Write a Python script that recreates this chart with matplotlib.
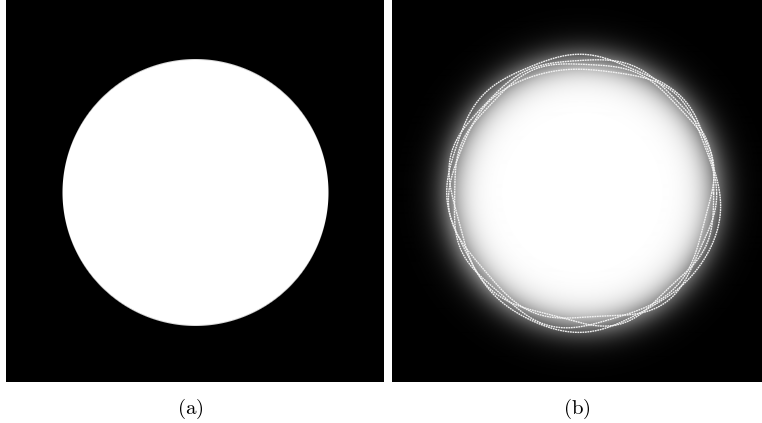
import numpy as np
import matplotlib
matplotlib.use("Agg")
import matplotlib.pyplot as plt

plt.rcParams['mathtext.fontset'] = 'cm'

# panel size in pixels
W, H = 378, 382

# (a) sharp disk
disk_a = dict(cx=189.5, cy=193.0, R=133.0)
# (b) blurred disk
disk_b = dict(cx=190.7, cy=193.3, R=133.0, soft=9.5)

# contour radii (px) read every 22.5 deg, counter-clockwise from the right
angles_deg = [0, 22.5, 45, 67.5, 90, 112.5, 135, 157.5,
              180, 202.5, 225, 247.5, 270, 292.5, 315, 337.5]
contour_a = [137, 133, 138, 134, 139, 137, 140, 135, 136, 131, 134, 137, 139, 133, 135, 139]
contour_b = [131, 135, 132, 137, 133, 135, 132, 137, 131, 128, 133, 127, 130, 135, 128, 134]
contour_c = [134, 131, 136, 128, 124, 127, 131, 129, 134, 130, 125, 129, 124, 131, 136, 130]
contour_d = [129, 134, 129, 132, 129, 133, 128, 131, 128, 134, 130, 135, 133, 129, 132, 126]
contours = [contour_a, contour_b, contour_c, contour_d]

captions = ['(a)', '(b)']
caption_x = [190, 577]


def smooth_closed(r, n=800):
    # trigonometric interpolation of periodic samples
    r = np.asarray(r, dtype=float)
    m = len(r)
    F = np.fft.rfft(r)
    th = np.linspace(0, 2 * np.pi, n)
    out = np.full(n, F[0].real / m)
    for k in range(1, len(F)):
        c = F[k] / m
        w = 1.0 if (m % 2 == 0 and k == m // 2) else 2.0
        out += w * (c.real * np.cos(k * th) - c.imag * np.sin(k * th))
    return th, out


yy, xx = np.mgrid[0:H, 0:W] + 0.5

fig = plt.figure(figsize=(7.62, 4.23), dpi=100)

ax1 = fig.add_axes([6 / 762, 41 / 423, W / 762, H / 423])
r1 = np.hypot(xx - disk_a['cx'], yy - disk_a['cy'])
img1 = np.clip(disk_a['R'] + 0.5 - r1, 0, 1)
ax1.imshow(img1, cmap='gray', vmin=0, vmax=1, extent=[0, W, H, 0],
           interpolation='bilinear', aspect='auto')

ax2 = fig.add_axes([392 / 762, 41 / 423, W / 762, H / 423])
r2 = np.hypot(xx - disk_b['cx'], yy - disk_b['cy'])
img2 = 1.0 / (1.0 + np.exp((r2 - disk_b['R']) / disk_b['soft']))
ax2.imshow(img2, cmap='gray', vmin=0, vmax=1, extent=[0, W, H, 0],
           interpolation='bilinear', aspect='auto')
for rr in contours:
    th, rs = smooth_closed(rr)
    ax2.plot(disk_b['cx'] + rs * np.cos(th), disk_b['cy'] - rs * np.sin(th),
             color='#f2f2f2', lw=1.0, ls=(0, (1.3, 0.5)))

for ax in (ax1, ax2):
    ax.set_xlim(0, W)
    ax.set_ylim(H, 0)
    ax.axis('off')

for lab, x in zip(captions, caption_x):
    fig.text(x / 762, 1 - 414 / 423, r'$\mathrm{' + lab + '}$', ha='center',
             va='baseline', fontsize=15)

fig.savefig('out.png', dpi=100)
